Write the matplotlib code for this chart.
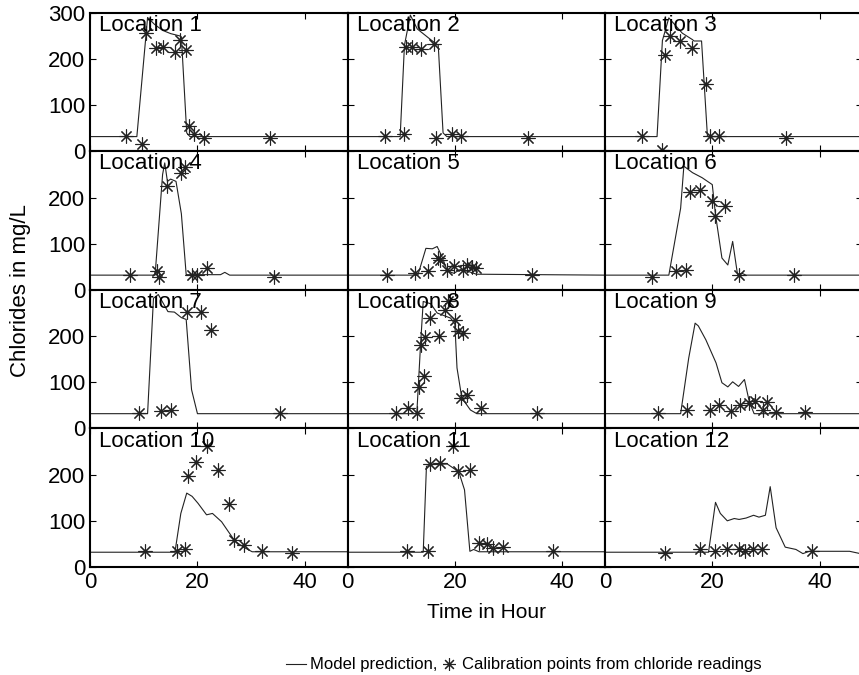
import numpy as np
import matplotlib
matplotlib.use('Agg')
import matplotlib.pyplot as plt
from matplotlib.lines import Line2D

plt.rcParams['font.family'] = ['Liberation Sans', 'DejaVu Sans']
plt.rcParams['font.size'] = 16

# model prediction lines (time in hour, chlorides mg/L) per location
model_t = [
    [0, 8.7, 10.7, 12, 13.5, 15, 16.7, 17.0, 18.0, 18.6, 48],
    [0, 9.8, 10.6, 11.7, 13, 15.7, 16.3, 16.9, 17.8, 18.5, 48],
    [0, 9.7, 10.7, 11.9, 14.4, 16.3, 16.6, 18.0, 19.1, 48],
    [0, 12.1, 13.5, 13.9, 14.4, 15.0, 16.0, 17.0, 17.9, 24.3, 25.1, 26.0, 48],
    [0, 13.1, 14.6, 15.8, 16.7, 17.6, 18.6, 19.8, 21.0, 22.5, 24.0, 48],
    [0, 11.9, 14.1, 14.7, 16.3, 18.1, 20.0, 20.6, 21.8, 22.9, 23.8, 24.7, 25.5, 26.3, 48],
    [0, 10.7, 11.8, 12.7, 14.5, 15.7, 17.0, 17.9, 18.9, 20.0, 48],
    [0, 12.9, 13.6, 14.1, 15.5, 16.7, 19.2, 20.0, 20.4, 21.3, 22.9, 24.1, 48],
    [0, 14.1, 15.6, 16.8, 17.4, 18.8, 20.7, 21.8, 22.9, 23.8, 24.9, 26.0, 26.9, 27.8, 48],
    [0, 15.8, 16.9, 18.0, 19.0, 20.1, 21.7, 22.8, 24.5, 25.8, 27.0, 28.6, 30.2, 48],
    [0, 14.1, 14.7, 16.0, 18.6, 20.1, 20.9, 21.8, 22.8, 23.5, 24.5, 48],
    [0, 19.3, 20.6, 21.5, 22.8, 24.1, 25.0, 26.3, 27.7, 28.7, 29.9, 30.8, 31.9, 33.6, 35.6, 36.9, 38.1, 45.6, 48],
]
model_c = [
    [32, 32, 290, 275, 262, 255, 250, 248, 40, 32, 32],
    [32, 32, 230, 295, 265, 240, 235, 230, 40, 32, 32],
    [32, 32, 240, 289, 256, 242, 239, 239, 32, 32],
    [32, 32, 250, 275, 235, 240, 235, 165, 33, 33, 38, 32, 32],
    [32, 32, 90, 89, 94, 72, 41, 36, 44, 40, 34, 32],
    [32, 32, 177, 268, 254, 243, 228, 163, 69, 54, 105, 34, 36, 32, 32],
    [32, 32, 282, 290, 253, 252, 240, 236, 84, 32, 32],
    [32, 32, 181, 275, 270, 250, 239, 226, 131, 66, 40, 32, 32],
    [32, 32, 152, 228, 222, 192, 142, 99, 90, 101, 91, 106, 58, 32, 32],
    [32, 32, 116, 160, 153, 138, 113, 116, 98, 76, 56, 43, 33, 33],
    [32, 32, 218, 222, 223, 211, 200, 167, 34, 38, 33, 33],
    [32, 32, 140, 116, 100, 105, 103, 106, 112, 108, 112, 174, 85, 43, 38, 29, 34, 34, 28],
]

# calibration points from chloride readings per location
calib_t = [
    [6.6, 9.75, 10.4, 12.3, 13.5, 15.8, 16.7, 17.9, 18.4, 19.4, 21.3, 33.6],
    [6.9, 10.5, 10.8, 12.0, 13.6, 16.1, 16.4, 19.5, 21.2, 33.6],
    [6.9, 10.6, 11.1, 12.2, 13.9, 16.3, 18.9, 19.5, 21.3, 33.7],
    [7.4, 12.5, 12.9, 14.3, 16.9, 17.6, 19.0, 19.9, 21.8, 34.2],
    [7.4, 12.5, 14.9, 16.8, 17.3, 18.5, 19.8, 21.6, 22.3, 23.2, 24.0, 34.3],
    [8.8, 13.3, 15.1, 15.9, 17.8, 19.9, 20.6, 22.4, 24.9, 35.2],
    [9.1, 13.2, 15.1, 18.1, 20.6, 22.5, 35.3],
    [9.1, 11.2, 12.9, 13.3, 14.2, 13.6, 14.5, 15.3, 17.1, 18.1, 18.7, 20.1, 20.5, 21.6, 21.1, 22.3, 24.9, 35.3],
    [9.9, 15.3, 19.5, 21.3, 23.4, 25.1, 26.9, 28.0, 29.5, 30.2, 31.9, 37.2],
    [10.2, 16.2, 17.6, 18.2, 19.8, 21.7, 23.9, 25.8, 26.9, 28.6, 32.1, 37.6],
    [11.0, 14.9, 15.4, 17.3, 19.7, 20.6, 22.8, 24.5, 25.9, 27.1, 29.0, 38.3],
    [11.1, 17.8, 20.6, 22.8, 24.9, 26.1, 27.6, 29.2, 38.6],
]
calib_c = [
    [34, 15, 256, 224, 226, 216, 242, 220, 56, 37, 29, 29],
    [33, 37, 227, 227, 222, 233, 29, 37, 34, 29],
    [33, 4, 209, 249, 238, 224, 145, 33, 33, 29],
    [33, 40, 29, 225, 254, 266, 33, 33, 47, 29],
    [33, 36, 41, 70, 65, 43, 51, 43, 54, 49, 47, 33],
    [29, 40, 43, 212, 217, 192, 161, 181, 33, 33],
    [34, 37, 40, 253, 253, 214, 34],
    [34, 45, 34, 89, 113, 181, 199, 239, 201, 257, 275, 235, 210, 206, 66, 73, 45, 34],
    [34, 41, 41, 50, 37, 50, 55, 59, 41, 57, 35, 35],
    [34, 34, 40, 196, 227, 261, 211, 136, 58, 47, 34, 31],
    [34, 34, 223, 225, 261, 207, 211, 51, 49, 42, 44, 34],
    [31, 40, 34, 40, 38, 34, 38, 38, 34],
]

names = ['Location %d' % (i + 1) for i in range(12)]

star = (8, 2, 0)
fig, axes = plt.subplots(4, 3, figsize=(8.59, 6.75), dpi=100)
fig.subplots_adjust(left=0.105, right=1.004, top=0.981, bottom=0.16, wspace=0, hspace=0)

for i, ax in enumerate(axes.flat):
    r, c = divmod(i, 3)
    ax.plot(model_t[i], model_c[i], color='#222222', lw=0.8)
    ax.plot(calib_t[i], calib_c[i], ls='none', marker=star, ms=10, mec='#222222',
            mew=0.8, color='#222222')
    ax.text(0.035, 0.985, names[i], transform=ax.transAxes, ha='left', va='top', fontsize=16)
    ax.set_xlim(0, 48)
    ax.set_ylim(0, 300)
    ax.set_xticks([0, 20, 40])
    ax.set_yticks([0, 100, 200, 300])
    ax.tick_params(direction='in', top=True, right=True, length=4, labelsize=16)
    if c == 0:
        ax.set_yticklabels(['0', '100', '200', '300' if r == 0 else ''])
    else:
        ax.set_yticklabels([])
    if r < 3:
        ax.set_xticklabels([])
    for s in ax.spines.values():
        s.set_linewidth(1.5)

fig.text(0.024, 0.57, 'Chlorides in mg/L', rotation=90, ha='center', va='center', fontsize=16)
fig.text(0.566, 0.092, 'Time in Hour', ha='center', va='center', fontsize=15)

h1 = Line2D([], [], color='#222222', lw=0.8)
h2 = Line2D([], [], ls='none', marker=star, ms=9, mec='#222222', mew=0.8)
fig.legend([h1, h2], ['Model prediction,', 'Calibration points from chloride readings'],
           loc='center', bbox_to_anchor=(0.61, 0.015), ncol=2, frameon=False,
           handlelength=1.2, handletextpad=0.2, columnspacing=0.1, fontsize=12)

fig.savefig('out.png', dpi=100)
